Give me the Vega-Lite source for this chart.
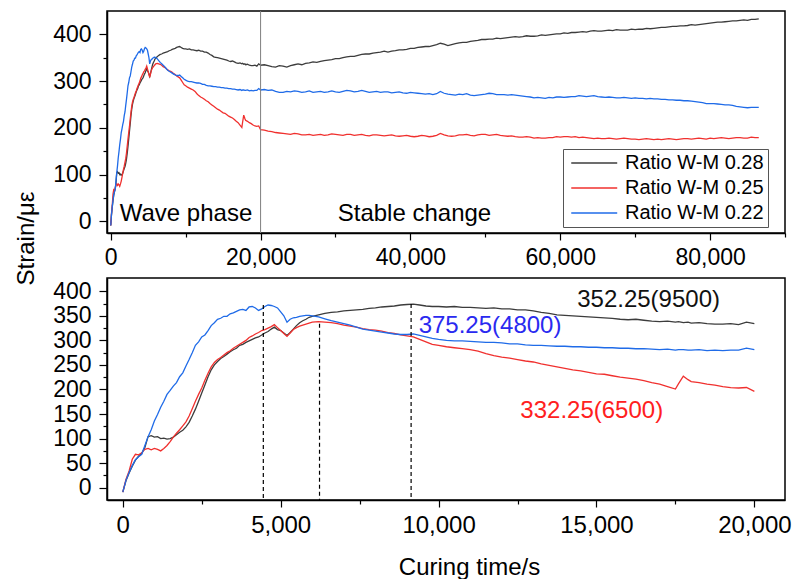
{
 "$schema": "https://vega.github.io/schema/vega-lite/v6.json",
 "padding": {"left": 13, "top": 9, "right": 5, "bottom": 5},
 "bounds": "flush",
 "spacing": 45,
 "background": "white",
 "config": {
  "font": "Liberation Sans",
  "view": {"stroke": "black", "strokeWidth": 1.5},
  "axis": {"domainColor": "black", "domainWidth": 1.5, "tickColor": "black", "tickWidth": 1.2, "labelColor": "black", "labelFont": "Liberation Sans", "titleFont": "Liberation Sans", "titleColor": "black", "titleFontWeight": "normal", "grid": false, "labelOverlap": false, "labelFlush": false}
 },
 "resolve": {"scale": {"color": "independent"}, "legend": {"color": "independent"}},
 "datasets": {
  "d": [
   {"t":0,"a":-9,"b":-9,"c":-9},{"t":100,"a":14,"b":17,"c":15},{"t":200,"a":30,"b":34,"c":31},{"t":300,"a":44,"b":58,"c":45},{"t":400,"a":56,"b":68,"c":57},{"t":500,"a":64,"b":67,"c":63},{"t":600,"a":70,"b":71,"c":68},{"t":700,"a":82,"b":78,"c":86},{"t":800,"a":104,"b":80,"c":104},{"t":900,"a":106,"b":77,"c":118},
   {"t":1000,"a":103,"b":80,"c":136},{"t":1100,"a":104,"b":78,"c":149},{"t":1200,"a":100,"b":75,"c":164},{"t":1300,"a":101,"b":80,"c":176},{"t":1400,"a":99,"b":86,"c":190},{"t":1500,"a":100,"b":94,"c":198},{"t":1600,"a":103,"b":103,"c":207},{"t":1700,"a":108,"b":111,"c":214},{"t":1800,"a":113,"b":118,"c":226},{"t":1900,"a":117,"b":126,"c":234},
   {"t":2000,"a":124,"b":134,"c":248},{"t":2100,"a":133,"b":146,"c":261},{"t":2200,"a":146,"b":161,"c":275},{"t":2300,"a":160,"b":176,"c":290},{"t":2400,"a":176,"b":190,"c":297},{"t":2500,"a":193,"b":203,"c":307},{"t":2600,"a":209,"b":219,"c":311},{"t":2700,"a":226,"b":233,"c":320},{"t":2800,"a":240,"b":246,"c":330},{"t":2900,"a":250,"b":255,"c":336},
   {"t":3000,"a":257,"b":261,"c":343},{"t":3100,"a":263,"b":265,"c":345},{"t":3200,"a":267,"b":270,"c":349},{"t":3300,"a":272,"b":275,"c":349},{"t":3400,"a":277,"b":279,"c":354},{"t":3500,"a":281,"b":284,"c":356},{"t":3600,"a":284,"b":288,"c":359},{"t":3700,"a":290,"b":292,"c":362},{"t":3800,"a":292,"b":296,"c":363},{"t":3900,"a":296,"b":300,"c":361},
   {"t":4000,"a":299,"b":306,"c":368},{"t":4100,"a":302,"b":309,"c":369},{"t":4200,"a":305,"b":313,"c":366},{"t":4300,"a":307,"b":316,"c":361},{"t":4400,"a":311,"b":320,"c":364},{"t":4500,"a":315,"b":322,"c":369},{"t":4600,"a":318,"b":325,"c":372},{"t":4700,"a":323,"b":328,"c":371},{"t":4800,"a":327,"b":332,"c":369},{"t":4900,"a":322,"b":326,"c":366},
   {"t":5000,"a":320,"b":320,"c":358},{"t":5100,"a":315,"b":314,"c":350},{"t":5200,"a":310,"b":308,"c":337},{"t":5300,"a":316,"b":315,"c":343},{"t":5400,"a":323,"b":322,"c":346},{"t":5500,"a":330,"b":326,"c":347},{"t":5600,"a":336,"b":329,"c":349},{"t":5700,"a":340,"b":331,"c":350},{"t":5800,"a":343,"b":333,"c":351},{"t":5900,"a":347,"b":335,"c":351},
   {"t":6000,"a":349,"b":337,"c":350},{"t":6200,"a":352,"b":338,"c":348},{"t":6400,"a":355,"b":337,"c":344},{"t":6600,"a":357,"b":336,"c":340},{"t":6800,"a":358,"b":334,"c":337},{"t":7000,"a":360,"b":331,"c":334},{"t":7200,"a":361,"b":329,"c":331},{"t":7400,"a":362,"b":327,"c":327},{"t":7600,"a":363,"b":324,"c":323},{"t":7800,"a":365,"b":322,"c":321},
   {"t":8000,"a":366,"b":321,"c":319},{"t":8200,"a":368,"b":319,"c":317},{"t":8400,"a":369,"b":316,"c":315},{"t":8600,"a":370,"b":314,"c":313},{"t":8800,"a":372,"b":311,"c":312},{"t":9000,"a":373,"b":309,"c":312},{"t":9200,"a":374,"b":307,"c":313},{"t":9400,"a":372,"b":302,"c":310},{"t":9600,"a":370,"b":297,"c":307},{"t":9800,"a":369,"b":292,"c":304},
   {"t":10000,"a":369,"b":290,"c":302},{"t":10250,"a":368,"b":287,"c":300},{"t":10500,"a":369,"b":285,"c":299},{"t":10750,"a":367,"b":283,"c":299},{"t":11000,"a":367,"b":281,"c":298},{"t":11250,"a":366,"b":278,"c":297},{"t":11500,"a":365,"b":273,"c":296},{"t":11750,"a":366,"b":269,"c":296},
   {"t":12000,"a":364,"b":266,"c":295},{"t":12250,"a":364,"b":264,"c":293},{"t":12500,"a":362,"b":261,"c":293},{"t":12750,"a":362,"b":258,"c":291},{"t":13000,"a":360,"b":256,"c":290},{"t":13250,"a":357,"b":252,"c":290},{"t":13500,"a":355,"b":249,"c":289},{"t":13750,"a":352,"b":246,"c":288},
   {"t":14000,"a":351,"b":243,"c":288},{"t":14250,"a":350,"b":240,"c":287},{"t":14500,"a":349,"b":238,"c":287},{"t":14750,"a":348,"b":235,"c":286},{"t":15000,"a":347,"b":232,"c":286},{"t":15250,"a":346,"b":231,"c":285},{"t":15500,"a":345,"b":228,"c":285},{"t":15750,"a":343,"b":225,"c":284},
   {"t":16000,"a":342,"b":223,"c":284},{"t":16250,"a":343,"b":221,"c":283},{"t":16500,"a":341,"b":218,"c":283},{"t":16750,"a":339,"b":214,"c":282},{"t":17000,"a":338,"b":211,"c":281},{"t":17250,"a":339,"b":206,"c":282},{"t":17500,"a":337,"b":201,"c":280},{"t":17600,"a":338,"b":212,"c":281},{"t":17750,"a":336,"b":227,"c":281},{"t":17900,"a":337,"b":220,"c":280},
   {"t":18000,"a":335,"b":216,"c":280},{"t":18250,"a":336,"b":214,"c":281},{"t":18500,"a":334,"b":211,"c":279},{"t":18750,"a":333,"b":209,"c":280},{"t":19000,"a":333,"b":206,"c":279},{"t":19250,"a":334,"b":204,"c":280},{"t":19500,"a":332,"b":203,"c":280},{"t":19750,"a":337,"b":204,"c":284},{"t":20000,"a":334,"b":196,"c":281},
   {"t":20500,"a":335,"b":195,"c":282},{"t":21000,"a":333,"b":193,"c":280},{"t":21500,"a":331,"b":192,"c":281},{"t":22000,"a":330,"b":190,"c":278},{"t":22500,"a":333,"b":189,"c":276},{"t":23000,"a":332,"b":188,"c":276},{"t":23500,"a":330,"b":187,"c":278},{"t":24000,"a":333,"b":186,"c":277},{"t":24500,"a":335,"b":188,"c":279},{"t":25000,"a":337,"b":187,"c":278},{"t":25500,"a":335,"b":185,"c":276},{"t":26000,"a":338,"b":185,"c":277},{"t":26500,"a":339,"b":186,"c":279},{"t":27000,"a":341,"b":184,"c":276},{"t":27500,"a":340,"b":185,"c":277},{"t":28000,"a":342,"b":186,"c":278},{"t":28500,"a":344,"b":184,"c":276},{"t":29000,"a":345,"b":185,"c":277},{"t":29500,"a":346,"b":187,"c":279},
   {"t":30000,"a":348,"b":186,"c":277},{"t":30500,"a":348,"b":185,"c":276},{"t":31000,"a":350,"b":184,"c":278},{"t":31500,"a":352,"b":186,"c":280},{"t":32000,"a":353,"b":186,"c":279},{"t":32500,"a":353,"b":184,"c":277},{"t":33000,"a":355,"b":185,"c":278},{"t":33500,"a":357,"b":186,"c":280},{"t":34000,"a":358,"b":184,"c":278},{"t":34500,"a":358,"b":183,"c":276},{"t":35000,"a":360,"b":185,"c":277},{"t":35500,"a":361,"b":185,"c":278},{"t":36000,"a":362,"b":184,"c":276},{"t":36500,"a":364,"b":183,"c":277},{"t":37000,"a":362,"b":184,"c":277},{"t":37500,"a":364,"b":185,"c":275},{"t":38000,"a":365,"b":183,"c":276},{"t":38500,"a":367,"b":182,"c":277},{"t":39000,"a":367,"b":183,"c":275},{"t":39500,"a":368,"b":184,"c":274},
   {"t":40000,"a":370,"b":182,"c":276},{"t":40500,"a":370,"b":181,"c":275},{"t":41000,"a":372,"b":182,"c":274},{"t":41500,"a":373,"b":184,"c":273},{"t":42000,"a":374,"b":183,"c":272},{"t":42500,"a":374,"b":181,"c":273},{"t":43000,"a":376,"b":182,"c":271},{"t":43500,"a":378,"b":184,"c":273},{"t":44000,"a":381,"b":188,"c":278},{"t":44500,"a":379,"b":185,"c":274},{"t":45000,"a":376,"b":183,"c":272},{"t":45500,"a":378,"b":182,"c":271},{"t":46000,"a":380,"b":183,"c":270},{"t":46500,"a":382,"b":185,"c":272},{"t":47000,"a":383,"b":185,"c":271},{"t":47500,"a":383,"b":186,"c":273},{"t":48000,"a":385,"b":184,"c":270},{"t":48500,"a":386,"b":183,"c":269},{"t":49000,"a":387,"b":185,"c":270},{"t":49500,"a":389,"b":186,"c":271},
   {"t":50000,"a":389,"b":186,"c":272},{"t":50500,"a":390,"b":184,"c":274},{"t":51000,"a":390,"b":185,"c":273},{"t":51500,"a":392,"b":186,"c":271},{"t":52000,"a":391,"b":184,"c":271},{"t":52500,"a":392,"b":183,"c":271},{"t":53000,"a":393,"b":182,"c":270},{"t":53500,"a":394,"b":183,"c":271},{"t":54000,"a":395,"b":181,"c":270},{"t":54500,"a":394,"b":180,"c":269},{"t":55000,"a":395,"b":180,"c":268},{"t":55500,"a":397,"b":181,"c":267},{"t":56000,"a":396,"b":180,"c":266},{"t":56500,"a":396,"b":178,"c":264},{"t":57000,"a":397,"b":179,"c":265},{"t":57500,"a":399,"b":178,"c":264},{"t":58000,"a":398,"b":178,"c":263},{"t":58500,"a":399,"b":179,"c":265},{"t":59000,"a":400,"b":179,"c":264},{"t":59500,"a":401,"b":181,"c":266},
   {"t":60000,"a":401,"b":180,"c":266},{"t":60500,"a":403,"b":181,"c":265},{"t":61000,"a":402,"b":181,"c":266},{"t":61500,"a":404,"b":180,"c":267},{"t":62000,"a":404,"b":181,"c":267},{"t":62500,"a":405,"b":179,"c":269},{"t":63000,"a":406,"b":180,"c":268},{"t":63500,"a":405,"b":179,"c":267},{"t":64000,"a":407,"b":178,"c":268},{"t":64500,"a":408,"b":177,"c":269},{"t":65000,"a":407,"b":178,"c":267},{"t":65500,"a":407,"b":177,"c":266},{"t":66000,"a":408,"b":177,"c":265},{"t":66500,"a":409,"b":178,"c":266},{"t":67000,"a":408,"b":177,"c":265},{"t":67500,"a":410,"b":176,"c":264},{"t":68000,"a":409,"b":177,"c":264},{"t":68500,"a":409,"b":178,"c":265},{"t":69000,"a":409,"b":177,"c":264},{"t":69500,"a":411,"b":176,"c":263},
   {"t":70000,"a":410,"b":176,"c":264},{"t":70500,"a":411,"b":175,"c":263},{"t":71000,"a":411,"b":176,"c":263},{"t":71500,"a":413,"b":177,"c":262},{"t":72000,"a":412,"b":176,"c":263},{"t":72500,"a":413,"b":175,"c":262},{"t":73000,"a":414,"b":176,"c":262},{"t":73500,"a":415,"b":175,"c":261},{"t":74000,"a":415,"b":176,"c":261},{"t":74500,"a":416,"b":177,"c":260},{"t":75000,"a":417,"b":176,"c":260},{"t":75500,"a":417,"b":175,"c":259},{"t":76000,"a":418,"b":176,"c":259},{"t":76500,"a":418,"b":177,"c":258},{"t":77000,"a":419,"b":177,"c":258},{"t":77500,"a":421,"b":176,"c":257},{"t":78000,"a":420,"b":177,"c":256},{"t":78500,"a":421,"b":178,"c":255},{"t":79000,"a":422,"b":177,"c":254},{"t":79500,"a":423,"b":176,"c":252},
   {"t":80000,"a":424,"b":178,"c":252},{"t":80500,"a":425,"b":177,"c":252},{"t":81000,"a":426,"b":178,"c":251},{"t":81500,"a":426,"b":179,"c":250},{"t":82000,"a":427,"b":178,"c":249},{"t":82500,"a":428,"b":177,"c":249},{"t":83000,"a":429,"b":178,"c":248},{"t":83500,"a":429,"b":179,"c":246},{"t":84000,"a":430,"b":179,"c":245},{"t":84500,"a":431,"b":178,"c":244},{"t":85000,"a":430,"b":178,"c":243},{"t":85500,"a":432,"b":180,"c":244},{"t":86000,"a":432,"b":179,"c":244},{"t":86500,"a":433,"b":179,"c":244}
  ]
 },
 "vconcat": [
  {
   "width": 678,
   "height": 222,
   "encoding": {
    "x": {"field": "t", "type": "quantitative", "scale": {"domain": [-500, 90000], "nice": false, "zero": false},
     "axis": {"title": null, "values": [0,10000,20000,30000,40000,50000,60000,70000,80000,90000], "format": ",d", "labelExpr": "datum.value % 20000 === 0 ? datum.label : ''", "labelOverlap": false, "labelFontSize": 23, "labelPadding": 6, "tickSize": {"condition": {"test": "datum.value % 20000 === 0", "value": 7}, "value": 4}}},
    "y": {"field": "v", "type": "quantitative", "scale": {"domain": [-25, 450], "nice": false, "zero": false},
     "axis": {"title": "Strain/με", "titleFontSize": 24, "titleAngle": -90, "titleX": -81, "titleY": 227, "titleAlign": "center", "titleBaseline": "middle", "values": [0,50,100,150,200,250,300,350,400], "labelExpr": "datum.value % 100 === 0 ? datum.label : ''", "labelOverlap": false, "labelFontSize": 23, "labelPadding": 8, "tickSize": {"condition": {"test": "datum.value % 100 === 0", "value": 8}, "value": 4}}}
   },
   "layer": [
    {
     "data": {"name": "d"},
     "transform": [{"fold": ["a", "b", "c"], "as": ["k", "v"]}],
     "mark": {"type": "line", "strokeWidth": 1.3},
     "encoding": {
      "color": {"field": "k", "type": "nominal", "scale": {"domain": ["a", "b", "c"], "range": ["#3c3c3c", "#f0302e", "#1f6be8"]},
       "legend": {"orient": "none", "legendX": 456, "legendY": 138, "title": null, "symbolType": "M-1,0H7", "symbolSize": 132, "symbolStrokeWidth": 1.5, "labelFontSize": 20, "labelFont": "Liberation Sans", "labelColor": "black", "strokeColor": "#555555", "fillColor": "white", "padding": 4, "rowPadding": 5, "labelOffset": 38,
        "labelExpr": "'Ratio W-M 0.' + (datum.label == 'a' ? '28' : datum.label == 'b' ? '25' : '22')"}}
     }
    },
    {
     "data": {"values": [{"t": 20000}]},
     "mark": {"type": "rule", "color": "#7f7f7f", "strokeWidth": 1},
     "encoding": {"y": {"value": 0}, "y2": {"value": 222}}
    },
    {
     "data": {"values": [{"t": 1200, "v": 15, "label": "Wave phase"}, {"t": 30300, "v": 15, "label": "Stable change"}]},
     "mark": {"type": "text", "align": "left", "baseline": "middle", "fontSize": 24, "color": "black"},
     "encoding": {"text": {"field": "label"}}
    }
   ]
  },
  {
   "width": 678,
   "height": 222,
   "encoding": {
    "x": {"field": "t", "type": "quantitative", "scale": {"domain": [-500, 20970], "nice": false, "zero": false},
     "axis": {"title": "Curing time/s", "titleFontSize": 24, "titleX": 362, "titleY": 74, "titleAlign": "center", "titleBaseline": "alphabetic", "values": [0,2500,5000,7500,10000,12500,15000,17500,20000], "format": ",d", "labelExpr": "datum.value % 5000 === 0 ? datum.label : ''", "labelOverlap": false, "labelFontSize": 24, "labelPadding": 6, "tickSize": {"condition": {"test": "datum.value % 5000 === 0", "value": 7}, "value": 4}}},
    "y": {"field": "v", "type": "quantitative", "scale": {"domain": [-25, 427], "nice": false, "zero": false},
     "axis": {"title": null, "values": [0,25,50,75,100,125,150,175,200,225,250,275,300,325,350,375,400], "labelExpr": "datum.value % 50 === 0 ? datum.label : ''", "labelOverlap": false, "labelFontSize": 23, "labelPadding": 8, "tickSize": {"condition": {"test": "datum.value % 50 === 0", "value": 8}, "value": 4}}}
   },
   "layer": [
    {
     "data": {"name": "d"},
     "transform": [{"filter": "datum.t <= 20000"}, {"fold": ["a", "b", "c"], "as": ["k", "v"]}],
     "mark": {"type": "line", "strokeWidth": 1.3},
     "encoding": {
      "color": {"field": "k", "type": "nominal", "scale": {"domain": ["a", "b", "c"], "range": ["#3c3c3c", "#f0302e", "#1f6be8"]}, "legend": null}
     }
    },
    {
     "data": {"values": [{"t": 4450, "v": 372}, {"t": 6230, "v": 334}, {"t": 9130, "v": 374}]},
     "mark": {"type": "rule", "color": "black", "strokeWidth": 1.2, "strokeDash": [4, 3]},
     "encoding": {"y2": {"datum": -25}}
    },
    {
     "data": {"values": [{"t": 16650, "v": 382, "label": "352.25(9500)"}]},
     "mark": {"type": "text", "align": "center", "baseline": "middle", "fontSize": 24, "color": "#111111"},
     "encoding": {"text": {"field": "label"}}
    },
    {
     "data": {"values": [{"t": 11630, "v": 329, "label": "375.25(4800)"}]},
     "mark": {"type": "text", "align": "center", "baseline": "middle", "fontSize": 24, "color": "#2a2af0"},
     "encoding": {"text": {"field": "label"}}
    },
    {
     "data": {"values": [{"t": 14850, "v": 156, "label": "332.25(6500)"}]},
     "mark": {"type": "text", "align": "center", "baseline": "middle", "fontSize": 24, "color": "#ff2020"},
     "encoding": {"text": {"field": "label"}}
    }
   ]
  }
 ]
}
